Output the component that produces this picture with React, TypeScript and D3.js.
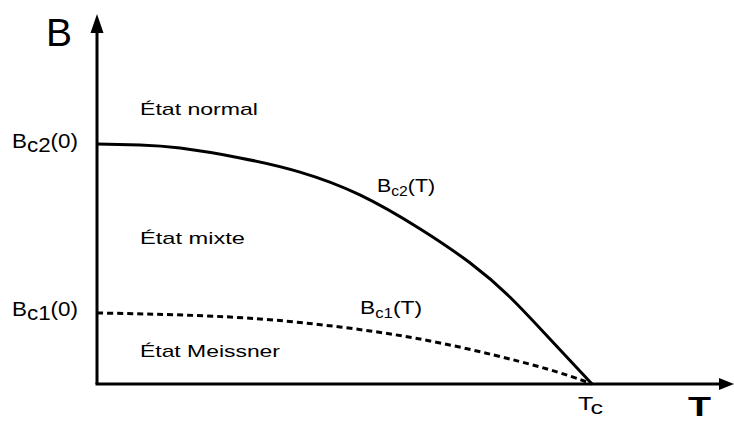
import React from "react";
import * as d3 from "d3";

// Reduced temperature T/Tc and field B/Bc2(0)
const bc2T = [0, 0.087, 0.168, 0.289, 0.41, 0.531, 0.653, 0.754, 0.834, 0.915, 1];
const bc2B = [1, 0.996, 0.983, 0.942, 0.883, 0.788, 0.646, 0.504, 0.3625, 0.1875, 0];
const bc1T = [0, 0.269, 0.491, 0.693, 0.895, 1];
const bc1B = [0.296, 0.279, 0.2375, 0.171, 0.071, 0];

const regionLabels = ["État normal", "État mixte", "État Meissner"];
const regionB = [1.121, 0.583, 0.113];
const regionWidths = [118, 105, 140];

const W = 734;
const H = 421;

export default function App() {
  const x = d3.scaleLinear().domain([0, 1]).range([97, 592]);
  const y = d3.scaleLinear().domain([0, 1]).range([384, 144]);
  const line = d3
    .line<[number, number]>()
    .x((d) => x(d[0]))
    .y((d) => y(d[1]))
    .curve(d3.curveNatural);
  const bc2 = bc2T.map((t, i) => [t, bc2B[i]] as [number, number]);
  const bc1 = bc1T.map((t, i) => [t, bc1B[i]] as [number, number]);
  const font = "'Liberation Sans', Arial, sans-serif";
  const x0 = x(0);
  const yb = y(0);

  return (
    <svg
      width={W}
      height={H}
      style={{ position: "fixed", left: 0, top: 0, background: "#fff" }}
      fontFamily={font}
    >
      <rect width={W} height={H} fill="#fff" />
      {/* axes */}
      <line x1={x0} y1={yb} x2={x0} y2={30} stroke="#000" strokeWidth={3} />
      <path d={`M${x0},14 L${x0 - 6.5},33 L${x0 + 6.5},33 Z`} fill="#000" />
      <line x1={x0 - 1.5} y1={yb} x2={722} y2={yb} stroke="#000" strokeWidth={3} />
      <path d={`M734,${yb} L719,${yb - 6} L719,${yb + 6} Z`} fill="#000" />
      {/* curves */}
      <path d={line(bc2) || ""} fill="none" stroke="#000" strokeWidth={3} />
      <path
        d={line(bc1) || ""}
        fill="none"
        stroke="#000"
        strokeWidth={3}
        strokeDasharray="6 4"
      />
      {/* axis titles */}
      <text x={46} y={46} fontSize={39} fill="#000">B</text>
      <text x={688} y={416} fontSize={28} fontWeight="bold" fill="#000" textLength={23} lengthAdjust="spacingAndGlyphs">T</text>
      {/* tick-like labels */}
      <text x={12} y={148} fontSize={21} fill="#000" textLength={66} lengthAdjust="spacingAndGlyphs">
        B<tspan dy={4}>c2</tspan><tspan dy={-4}>(0)</tspan>
      </text>
      <text x={12} y={316} fontSize={21} fill="#000" textLength={66} lengthAdjust="spacingAndGlyphs">
        B<tspan dy={4}>c1</tspan><tspan dy={-4}>(0)</tspan>
      </text>
      <text x={578} y={410} fontSize={19} fill="#000" textLength={25} lengthAdjust="spacingAndGlyphs">
        T<tspan dy={4}>c</tspan>
      </text>
      {/* curve labels */}
      <text x={377} y={192} fontSize={19} fill="#000" textLength={58} lengthAdjust="spacingAndGlyphs">
        B<tspan dy={4} fontSize={14}>c2</tspan><tspan dy={-4}>(T)</tspan>
      </text>
      <text x={360} y={314} fontSize={19} fill="#000" textLength={62} lengthAdjust="spacingAndGlyphs">
        B<tspan dy={4} fontSize={14}>c1</tspan><tspan dy={-4}>(T)</tspan>
      </text>
      {/* region labels */}
      {regionLabels.map((t, i) => (
        <text
          key={t}
          x={140}
          y={y(regionB[i])}
          fontSize={17}
          fill="#000"
          textLength={regionWidths[i]}
          lengthAdjust="spacingAndGlyphs"
        >
          {t}
        </text>
      ))}
    </svg>
  );
}
